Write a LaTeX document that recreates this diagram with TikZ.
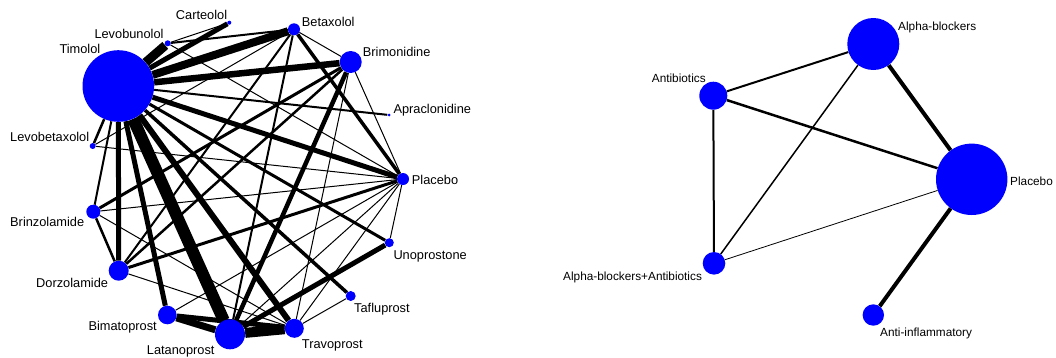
\documentclass[tikz,border=0pt]{standalone}
\usepackage{fontspec}
\setmainfont{Liberation Sans}
\usetikzlibrary{backgrounds}
\begin{document}
\begin{tikzpicture}[x=1pt,y=-1pt,
  tr/.style={circle,fill=blue,draw=none,inner sep=0pt,minimum size=#1},
  lb/.style={font=\fontsize{12.8}{14}\selectfont,inner sep=0pt,anchor=base west},
  lbr/.style={font=\fontsize{11.8}{13}\selectfont,inner sep=0pt,anchor=base west},
  ed/.style={draw=black,line width=#1}]
\useasboundingbox (0,0) rectangle (1056,357);
% ---------- left network: treatments ----------
\node[tr=71.6pt] (Tim) at (118.3,86) {};
\node[tr=4pt]    (Car) at (229.3,22.7) {};
\node[tr=6pt]    (Lbu) at (167.7,43.3) {};
\node[tr=12pt]   (Bet) at (294,29.3) {};
\node[tr=22pt]   (Bri) at (350.7,62) {};
\node[tr=3pt]    (Apr) at (389,115) {};
\node[tr=6pt]    (Lbx) at (92.7,146) {};
\node[tr=12pt]   (Pla) at (403,179) {};
\node[tr=14pt]   (Brz) at (93.3,211.7) {};
\node[tr=9pt]    (Uno) at (389.3,242.7) {};
\node[tr=20pt]   (Dor) at (118.7,270.7) {};
\node[tr=10pt]   (Taf) at (350.7,296) {};
\node[tr=18.6pt] (Bim) at (167.3,315) {};
\node[tr=30pt]   (Lat) at (230,334.3) {};
\node[tr=19pt]   (Tra) at (294.3,328.3) {};
% labels
\node[lb] (tCar) at (175.7,19.6) {Carteolol};
\node[lb] (tLbu) at (94.3,38.9) {Levobunolol};
\node[lb] (tTim) at (59.3,53.9) {Timolol};
\node[lb] (tBet) at (301.7,26.3) {Betaxolol};
\node[lb] (tBri) at (362.7,56.3) {Brimonidine};
\node[lb] (tApr) at (393.3,113.9) {Apraclonidine};
\node[lb] (tLbx) at (10,141.3) {Levobetaxolol};
\node[lb] (tPla) at (411.7,184.6) {Placebo};
\node[lb] (tBrz) at (10,226.3) {Brinzolamide};
\node[lb] (tUno) at (393.3,259.6) {Unoprostone};
\node[lb] (tDor) at (36,287.9) {Dorzolamide};
\node[lb] (tTaf) at (354,312.3) {Tafluprost};
\node[lb] (tBim) at (88.3,330.6) {Bimatoprost};
\node[lb] (tLat) at (146.7,354.4) {Latanoprost};
\node[lb] (tTra) at (301.7,348.6) {Travoprost};
% ---------- right network ----------
\node[tr=52pt]   (AB) at (873.3,44) {};
\node[tr=28pt]   (Ant) at (713.3,95.7) {};
\node[tr=71.4pt] (P2) at (971.7,179.3) {};
\node[tr=22.6pt] (AA) at (714,263.3) {};
\node[tr=21.4pt] (AI) at (873.3,315) {};
\node[lbr] (tAB) at (898,30.2) {Alpha-blockers};
\node[lbr] (tAnt) at (651.7,82.2) {Antibiotics};
\node[lbr] (tP2) at (1010,185.2) {Placebo};
\node[lbr] (tAA) at (563,280.2) {Alpha-blockers+Antibiotics};
\node[lbr] (tAI) at (880,336.2) {Anti-inflammatory};
% ---------- edges ----------
\begin{scope}[on background layer]
\draw[ed=12pt] (Tim) -- (Lat);
\draw[ed=10pt] (Lat) -- (Tra);
\draw[ed=7pt] (Bim) -- (Lat);
\draw[ed=5pt] (Bim) -- (Tra);
\draw[ed=9pt] (Tim) -- (Lbu);
\draw[ed=8pt] (Tim) -- (Bet);
\draw[ed=6.5pt] (Tim) -- (Bri);
\draw[ed=5pt] (Tim) -- (Car);
\draw[ed=5pt] (Tim) -- (Pla);
\draw[ed=5pt] (Tim) -- (Dor);
\draw[ed=5pt] (Tim) -- (Bim);
\draw[ed=6pt] (Tim) -- (Tra);
\draw[ed=3.5pt] (Tim) -- (Taf);
\draw[ed=3pt] (Tim) -- (Uno);
\draw[ed=2pt] (Tim) -- (Apr);
\draw[ed=2.5pt] (Tim) -- (Lbx);
\draw[ed=2pt] (Tim) -- (Brz);
\draw[ed=5pt] (Lat) -- (Uno);
\draw[ed=4.5pt] (Lat) -- (Bri);
\draw[ed=3.5pt] (Bet) -- (Pla);
\draw[ed=3pt] (Dor) -- (Pla);
\draw[ed=3pt] (Brz) -- (Bri);
\draw[ed=2.5pt] (Dor) -- (Bri);
\draw[ed=2pt] (Bet) -- (Lbu);
\draw[ed=2pt] (Bet) -- (Lat);
\draw[ed=2pt] (Bet) -- (Dor);
\draw[ed=2.5pt] (Dor) -- (Brz);
\draw[ed=1pt] (Lbu) -- (Car);
\draw[ed=1pt] (Lbu) -- (Pla);
\draw[ed=1pt] (Bet) -- (Bri);
\draw[ed=1pt] (Bet) -- (Lbx);
\draw[ed=1pt] (Lbx) -- (Pla);
\draw[ed=1pt] (Bri) -- (Pla);
\draw[ed=1pt] (Bri) -- (Tra);
\draw[ed=1pt] (Brz) -- (Pla);
\draw[ed=1pt] (Brz) -- (Tra);
\draw[ed=1pt] (Dor) -- (Tra);
\draw[ed=1pt] (Bim) -- (Pla);
\draw[ed=1pt] (Lat) -- (Pla);
\draw[ed=1pt] (Tra) -- (Pla);
\draw[ed=1pt] (Pla) -- (Uno);
\draw[ed=1pt] (Taf) -- (Tra);
% right
\draw[ed=2pt] (Ant) -- (AB);
\draw[ed=2.5pt] (Ant) -- (P2);
\draw[ed=2pt] (Ant) -- (AA);
\draw[ed=1.5pt] (AB) -- (AA);
\draw[ed=4pt] (AB) -- (P2);
\draw[ed=0.8pt] (AA) -- (P2);
\draw[ed=4pt] (P2) -- (AI);
\end{scope}
\end{tikzpicture}
\end{document}
